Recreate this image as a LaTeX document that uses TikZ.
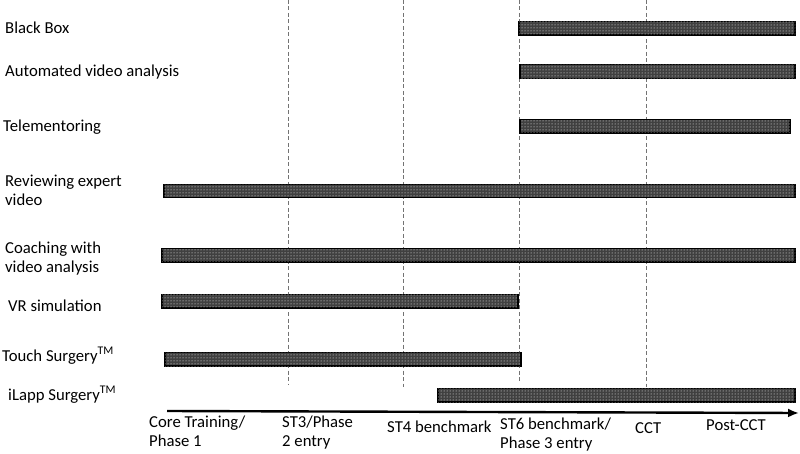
\documentclass[tikz,border=0pt]{standalone}
\usepackage{fontspec}
\setmainfont{Carlito}
\usetikzlibrary{patterns,arrows.meta}
\begin{document}
\begin{tikzpicture}[x=1pt,y=-1pt,
  lbl/.style={anchor=base west,inner sep=0pt,font=\fontsize{16.7}{19}\selectfont,align=left},
  bar/.style={draw=black,line width=1.2pt,fill=black!75,postaction={pattern=dots,pattern color=white}},
  guide/.style={draw=black!55,line width=0.5pt,dash pattern=on 4pt off 2.5pt},
  axisline/.style={draw=black,line width=2.4pt,-{Latex[length=11pt,width=9pt]}}]
\useasboundingbox (0,0) rectangle (800,454);
% guides
\foreach \n/\x/\e in {g1/288/384, g2/403/387, g3/519/383, g4/646/387}{
  \coordinate (\n t) at (\x,0);
  \coordinate (\n b) at (\x,\e);
  \draw[guide] (\n t) -- (\n b);
}
% bars
\draw[bar] (519,21.5) rectangle (795,35);
\draw[bar] (520,64.5) rectangle (795,78.5);
\draw[bar] (520,119.5) rectangle (790,133);
\draw[bar] (164,184.5) rectangle (795,197.5);
\draw[bar] (162,248.5) rectangle (795,262);
\draw[bar] (162,294.5) rectangle (518,308);
\draw[bar] (165,352.5) rectangle (521,366);
\draw[bar] (438,388.5) rectangle (795,402);
% labels
\node[lbl] (l1) at (5,34) {Black Box};
\node[lbl] (l2) at (5,77) {Automated video analysis};
\node[lbl] (l3) at (3,132) {Telementoring};
\node[lbl,anchor=north west] (l4) at (5,175) {Reviewing expert\\video};
\node[lbl,anchor=north west] (l5) at (5,242) {Coaching with\\video analysis};
\node[lbl] (l6) at (8,311) {VR simulation};
\node[lbl] (l7) at (2,361) {Touch Surgery\textsuperscript{TM}};
\node[lbl] (l8) at (8,400) {iLapp Surgery\textsuperscript{TM}};
% axis
\coordinate (axs) at (167,411);
\coordinate (axe) at (799,413);
\draw[axisline] (axs) -- (axe);
\node[lbl,anchor=north west] (a1) at (149,415.5) {Core Training/\\Phase 1};
\node[lbl,anchor=north west] (a2) at (282,415.5) {ST3/Phase\\2 entry};
\node[lbl] (a3) at (387,432) {ST4 benchmark};
\node[lbl,anchor=north west] (a4) at (500,418) {ST6 benchmark/\\Phase 3 entry};
\node[lbl] (a5) at (635,433) {CCT};
\node[lbl] (a6) at (706,430) {Post-CCT};
\end{tikzpicture}
\end{document}
